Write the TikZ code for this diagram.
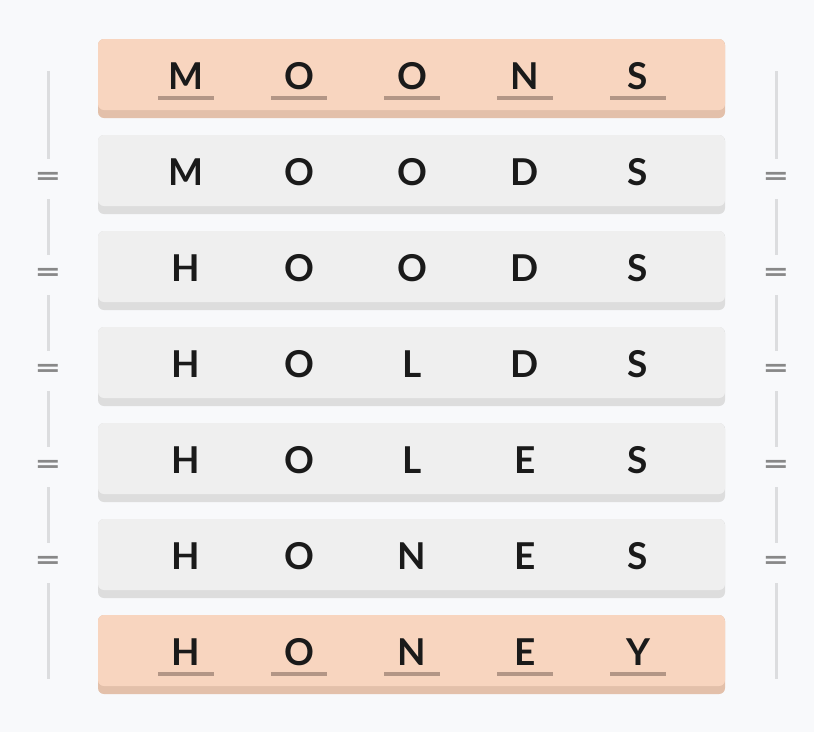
\documentclass[tikz,border=0pt]{standalone}
\usepackage{fontspec}
\setmainfont{Lato}
\definecolor{pagebg}{HTML}{F8F9FB}
\definecolor{endfill}{HTML}{F8D5BF}
\definecolor{endstrip}{HTML}{E3C0AA}
\definecolor{endline}{HTML}{B39686}
\definecolor{midfill}{HTML}{EFEFEF}
\definecolor{midstrip}{HTML}{DDDDDD}
\definecolor{railgray}{HTML}{DCDDDF}
\definecolor{eqgray}{HTML}{888888}
\definecolor{ink}{HTML}{1A1A1A}
\tikzset{
  wordrow/.style 2 args={draw=none, rounded corners=6pt, fill=#2,
    minimum width=627pt, minimum height=79pt, inner sep=0pt,
    path picture={\fill[#1] (path picture bounding box.north west)
      rectangle ([yshift=8pt]path picture bounding box.south east);}},
  tile/.style={anchor=base, inner sep=0pt, text=ink,
    font=\fontsize{37}{37}\selectfont\bfseries},
  underbar/.style={endline, line width=4pt},
  rail/.style={railgray, line width=3pt},
  eqsign/.style={inner sep=0pt, minimum height=48pt, text=eqgray,
    font=\fontsize{30}{30}\selectfont\bfseries}
}
\begin{document}
\begin{tikzpicture}[x=1pt,y=-1pt]
  \fill[pagebg] (0,0) rectangle (814,732);
  \useasboundingbox (0,0) rectangle (814,732);

  % ladder of words
  \foreach \a/\b/\c/\d/\e [count=\i from 0] in
      {M/O/O/N/S,M/O/O/D/S,H/O/O/D/S,H/O/L/D/S,H/O/L/E/S,H/O/N/E/S,H/O/N/E/Y}{
    \ifnum\i=0 \def\rowfill{endfill}\def\rowstrip{endstrip}
    \else\ifnum\i=6 \def\rowfill{endfill}\def\rowstrip{endstrip}
    \else \def\rowfill{midfill}\def\rowstrip{midstrip}\fi\fi
    \node[wordrow={\rowfill}{\rowstrip}] (row-\i) at (411.5,78.5+96*\i) {};
    \foreach \ch [count=\j from 0] in {\a,\b,\c,\d,\e}{
      \node[tile] (l-\i-\j) at (186+113*\j,89.5+96*\i) {\ch};
    }
  }

  % end words underlined
  \foreach \i in {0,6}{
    \foreach \j in {0,...,4}{
      \draw[underbar] ([xshift=-28pt,yshift=-8pt]l-\i-\j.base)
        -- ([xshift=28pt,yshift=-8pt]l-\i-\j.base);
    }
  }

  % rails with equals signs
  \foreach \side/\x in {L/48,R/776}{
    \coordinate (top\side) at (\x,71);
    \coordinate (bot\side) at (\x,679);
    \foreach \k in {1,...,5}{
      \node[eqsign] (eq\side-\k) at (\x,83+96*\k) {\scalebox{1.5}[1]{=}};
    }
    \draw[rail] (top\side) -- ([yshift=-4pt]eq\side-1.north);
    \draw[rail] ([yshift=4pt]eq\side-1.south) -- ([yshift=-4pt]eq\side-2.north);
    \draw[rail] ([yshift=4pt]eq\side-2.south) -- ([yshift=-4pt]eq\side-3.north);
    \draw[rail] ([yshift=4pt]eq\side-3.south) -- ([yshift=-4pt]eq\side-4.north);
    \draw[rail] ([yshift=4pt]eq\side-4.south) -- ([yshift=-4pt]eq\side-5.north);
    \draw[rail] ([yshift=4pt]eq\side-5.south) -- (bot\side);
  }
\end{tikzpicture}
\end{document}
